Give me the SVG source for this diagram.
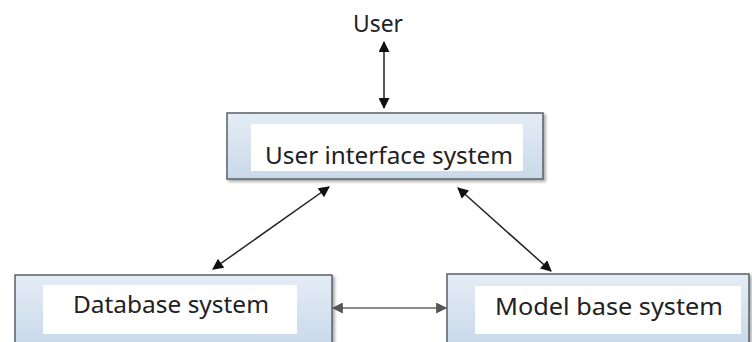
<svg xmlns="http://www.w3.org/2000/svg" width="752" height="342" viewBox="0 0 752 342">
<style>
.box{fill:url(#g);stroke:#5a6068;stroke-width:1.5}
.inner{fill:#ffffff}
.t{font-family:"Noto Sans","Liberation Sans",sans-serif;font-size:23px;fill:#222}
.c{stroke:#222;stroke-width:1.5;fill:none;marker-start:url(#a);marker-end:url(#a)}
</style>
<defs>
<linearGradient id="g" x1="0" y1="0" x2="0" y2="1">
<stop offset="0" stop-color="#e4edf6"/>
<stop offset="1" stop-color="#c9d9e9"/>
</linearGradient>
<filter id="sh" x="-5%" y="-10%" width="115%" height="130%">
<feDropShadow dx="2" dy="2" stdDeviation="1.5" flood-color="#000" flood-opacity="0.35"/>
</filter>
<marker id="a" viewBox="0 0 10 10" refX="9" refY="5" markerWidth="12" markerHeight="11" markerUnits="userSpaceOnUse" orient="auto-start-reverse">
<path d="M0,0 L10,5 L0,10 z" fill="#111"/>
</marker>
<marker id="a2" viewBox="0 0 10 10" refX="9" refY="5" markerWidth="12" markerHeight="11" markerUnits="userSpaceOnUse" orient="auto-start-reverse">
<path d="M0,0 L10,5 L0,10 z" fill="#555"/>
</marker>
</defs>
<g id="user">
<text class="t" x="378" y="32" text-anchor="middle" textLength="50" lengthAdjust="spacingAndGlyphs">User</text>
</g>
<g id="ui">
<rect class="box" x="227" y="113" width="316" height="66" filter="url(#sh)"/>
<rect class="inner" x="251" y="124" width="272" height="47"/>
<text class="t" x="389" y="164" text-anchor="middle" textLength="248" lengthAdjust="spacingAndGlyphs">User interface system</text>
</g>
<g id="db">
<rect class="box" x="15" y="275" width="317" height="70" filter="url(#sh)"/>
<rect class="inner" x="43" y="285" width="254" height="49"/>
<text class="t" x="171" y="313" text-anchor="middle" textLength="196" lengthAdjust="spacingAndGlyphs">Database system</text>
</g>
<g id="mb">
<rect class="box" x="447" y="274" width="302" height="71" filter="url(#sh)"/>
<rect class="inner" x="475" y="286" width="266" height="48"/>
<text class="t" x="609" y="315" text-anchor="middle" textLength="228" lengthAdjust="spacingAndGlyphs">Model base system</text>
</g>
<g id="connectors">
<line class="c" x1="384" y1="42" x2="384" y2="108"/>
<line class="c" x1="329" y1="187" x2="213" y2="269"/>
<line class="c" x1="458" y1="188" x2="551" y2="271"/>
<line x1="333" y1="308" x2="446" y2="308" stroke="#666" stroke-width="1.5" marker-start="url(#a2)" marker-end="url(#a2)"/>
</g>
</svg>
